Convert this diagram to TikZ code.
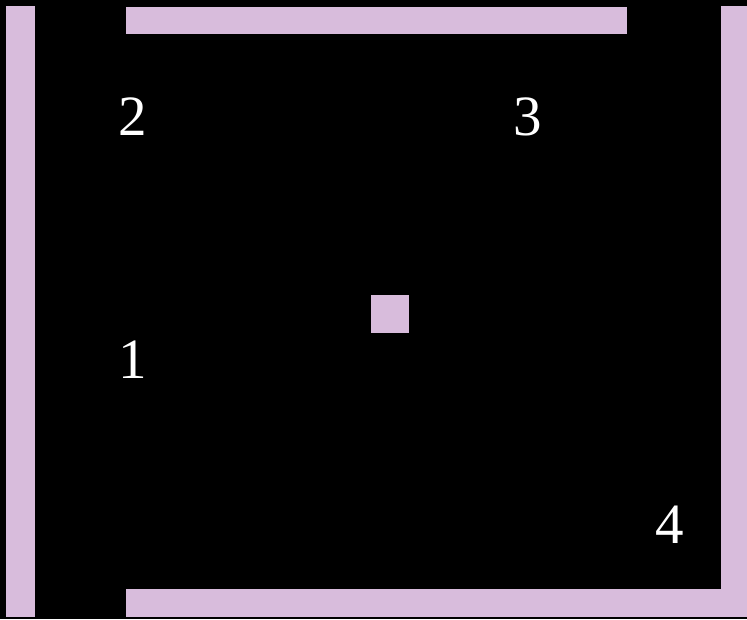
\documentclass[tikz,border=0pt]{standalone}
\usepackage{fontspec}
\setmainfont{Liberation Serif}
\usetikzlibrary{positioning}
\definecolor{wallpink}{RGB}{216,188,220}
\newcommand{\wallbar}[2]{\fill[wallpink] #1 rectangle #2;}
\tikzset{roomlabel/.style={text=white,font=\fontsize{57}{57}\selectfont,inner sep=0pt,anchor=base}}

\begin{document}
\begin{tikzpicture}[x=1pt,y=1pt]
\fill[black] (0,0) rectangle (747,619);
\useasboundingbox (0,0) rectangle (747,619);
% walls
\wallbar{(6,2)}{(35,613)}
\wallbar{(126,585)}{(627,612)}
\wallbar{(721,2.5)}{(747,613)}
\wallbar{(126,2.5)}{(747,30)}
% centre block
\wallbar{(371,286)}{(409,324)}
% corner labels
\node[roomlabel] (c1) at (133,240) {1};
\node[roomlabel] (c2) at (132.5,483) {2};
\node[roomlabel] (c3) at (527.5,483) {3};
\node[roomlabel] (c4) at (669.5,76) {4};
\end{tikzpicture}
\end{document}
